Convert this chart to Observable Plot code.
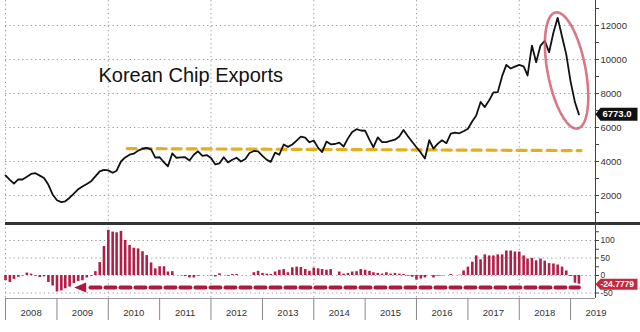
<!DOCTYPE html>
<html><head><meta charset="utf-8">
<script src="https://cdn.jsdelivr.net/npm/d3@7"></script>
<script src="https://cdn.jsdelivr.net/npm/@observablehq/plot@0.6"></script>
<style>
html,body{margin:0;padding:0;background:#fff;}
#chart{position:relative;width:640px;height:332px;overflow:hidden;font-family:"Liberation Sans",Arial,sans-serif;}
#chart svg{display:block;}
</style></head><body><div id="chart"></div>
<script>
// ---------- data ----------
const firstMonth = "2008-01-01";
const chartTitle = "Korean Chip Exports";
const exportsValues = [
 3180,2920,2700,2950,2940,3100,3270,3310,3170,3030,2630,2060,
 1720,1610,1660,1870,2110,2370,2530,2680,2840,3120,3420,3510,
 3480,3340,3460,4000,4240,4400,4460,4640,4750,4800,4710,4230,
 4250,3950,3720,4480,4220,4240,4250,4060,4400,4600,4330,4380,
 4200,3830,3890,4250,3950,4100,4220,4000,4150,4500,4620,4600,
 4330,4100,3980,4520,4400,5000,4860,5000,5230,5460,5400,5130,
 5235,4800,4550,5170,5010,5030,5110,4880,5360,5740,5900,5824,
 5810,5270,4840,5420,5135,5135,5220,5280,5470,5850,5490,5160,
 4840,4520,4180,5250,4760,5050,5250,5080,5640,5700,5660,5780,
 5930,6370,6700,7500,7200,7600,8070,8080,9020,9680,9470,9580,
 9680,9600,9060,10820,9840,10820,11100,10430,11590,12450,11350,10300,
 8700,7480,6773
];
const yoyValues = [
 -15,-20,-11,-5,-1,7,4,-2,-6,-4,-20,-30,
 -47,-44,-38,-33,-23,-17,-15,-7,-2,11,37,83,
 129,124,122,126,100,86,78,76,68,57,36,19,
 25,25,10,11,0,-1,-3,-7,-7,-2,0,0,
 -1,-4,5,0,-2,3,3,0,0,0,8,12,
 6,4,3,10,15,17,8,22,24,23,17,12,
 21,19,17,15,17,0,10,4,6,10,11,17,
 15,12,8,6,4,8,4,6,4,3,-2,-5,
 -13,-10,-7,0,-7,-2,-1,0,3,0,1,13,
 24,38,56,45,59,56,56,59,59,70,70,67,
 67,56,47,49,42,47,41,34,33,30,24,13,
 -3,-22,-24.7779
];
const yearLabels = [2008,2009,2010,2011,2012,2013,2014,2015,2016,2017,2018,2019];
const gridYears = [2008,2010,2012,2014,2016,2018];
const upperTicks = [1000,2000,3000,4000,5000,6000,7000,8000,9000,10000,11000,12000,13000];
const upperGrid = [2000,4000,6000,8000,10000,12000];
const lowerTicks = [-50,-25,0,25,50,75,100,125];
const lowerGrid = [-50,0,50,100];
const lastExportLabel = "6773.0";
const lastYoyLabel = "-24.7779";
const supportLine = [{date:"2010-05-15", value:4760},{date:"2019-03-15", value:4640}];
const arrowLine = [{date:"2009-08-27", value:-34},{date:"2019-03-01", value:-34}];
const arrowHead = [{date:"2009-06-22", value:-34}];
const ellipseAxis = [{date:"2018-09-16", value:12765},{date:"2019-02-20", value:5941}];
const ellipseHalfWidth = 19;

// ---------- build ----------
const d0 = new Date(firstMonth);
const monthDate = i => d3.utcMonth.offset(d0, i);
const exportsData = exportsValues.map((v,i)=>({date:monthDate(i), value:v}));
const yoyData = yoyValues.map((v,i)=>({date:monthDate(i), value:v}));
const yearStart = y => new Date(Date.UTC(y,0,1));
const xDomain = [yearStart(2008), new Date("2019-06-27")];
const upperDomain = [412, 13470];
const lowerDomain = [-65.7, 148.6];
const font = '"Liberation Sans", Arial, sans-serif';
const gridStyle = {stroke:"#9a9a9a", strokeDasharray:"1.3,3", strokeWidth:1};
const tag = (w,h) => ({draw(ctx){ctx.moveTo(0,0);ctx.lineTo(5,-h);ctx.lineTo(w,-h);ctx.lineTo(w,h);ctx.lineTo(5,h);ctx.closePath();}});
const headSym = {draw(ctx){ctx.moveTo(-7,0);ctx.lineTo(5,-5);ctx.lineTo(5,5);ctx.closePath();}};
const parse = a => a.map(d=>({date:new Date(d.date), value:d.value}));

// ellipse points (pixel geometry through the same scales)
const xs = d3.scaleUtc().domain(xDomain).range([5,595]);
const ys = d3.scaleLinear().domain(upperDomain).range([222,0]);
const ea = parse(ellipseAxis);
const p1 = [xs(ea[0].date), ys(ea[0].value)], p2 = [xs(ea[1].date), ys(ea[1].value)];
const c = [(p1[0]+p2[0])/2,(p1[1]+p2[1])/2], u = [(p2[0]-p1[0])/2,(p2[1]-p1[1])/2];
const ul = Math.hypot(u[0],u[1]); const n = [-u[1]/ul, u[0]/ul];
const ellipsePts = d3.range(0, 361, 5).map(a=>{
  const t = a*Math.PI/180;
  const px = c[0]+u[0]*Math.cos(t)+n[0]*ellipseHalfWidth*Math.sin(t);
  const py = c[1]+u[1]*Math.cos(t)+n[1]*ellipseHalfWidth*Math.sin(t);
  return {date: xs.invert(px), value: ys.invert(py)};
});

const last = exportsData[exportsData.length-1];
const lastY = yoyData[yoyData.length-1];

const upper = Plot.plot({
  width:640, height:222, marginTop:0, marginBottom:0, marginLeft:5, marginRight:45,
  style:{fontFamily:font, fontSize:"9.5px", color:"#333", background:"transparent", overflow:"visible"},
  x:{type:"utc", domain:xDomain, axis:null},
  y:{domain:upperDomain, axis:null},
  marks:[
    Plot.ruleX(gridYears.map(yearStart), gridStyle),
    Plot.ruleY(upperGrid, gridStyle),
    Plot.line(parse(supportLine), {x:"date", y:"value", stroke:"#E4AE22", strokeWidth:3.2, strokeDasharray:"9,6"}),
    Plot.line(exportsData, {x:"date", y:"value", stroke:"#111", strokeWidth:1.8}),
    Plot.line(ellipsePts, {x:"date", y:"value", stroke:"#cf5566", strokeWidth:2.6, strokeOpacity:0.8}),
    Plot.text([chartTitle], {frameAnchor:"top-left", dx:93, dy:75, textAnchor:"start", lineAnchor:"middle", fontSize:20, fill:"#111"}),
    Plot.ruleX([xDomain[1]], {stroke:"#444", strokeWidth:1}),
    Plot.axisY({anchor:"right", ticks:upperTicks, tickSize:3, tickPadding:2, tickFormat:d=> d%2000===0 ? String(d) : "", stroke:"#444", fill:"#333", fontSize:9.5, label:null}),
    Plot.dot([{date:xDomain[1], value:last.value}], {x:"date", y:"value", symbol:tag(42,6.5), fill:"#111", stroke:"none", r:5}),
    Plot.text([{date:xDomain[1], value:last.value}], {x:"date", y:"value", text:()=>lastExportLabel, dx:7, textAnchor:"start", fill:"#fff", fontSize:9.5, fontWeight:"bold"})
  ]
});

const lower = Plot.plot({
  width:640, height:110, marginTop:1, marginBottom:34, marginLeft:5, marginRight:45,
  style:{fontFamily:font, fontSize:"9px", color:"#333", background:"transparent", overflow:"visible"},
  x:{type:"utc", domain:xDomain, axis:null},
  y:{domain:lowerDomain, axis:null},
  marks:[
    Plot.ruleX(gridYears.map(yearStart), gridStyle),
    Plot.ruleY(lowerGrid, gridStyle),
    Plot.ruleX(yoyData, {x:"date", y1:0, y2:"value", stroke:"#B11E46", strokeWidth:2.6}),
    Plot.line(parse(arrowLine), {x:"date", y:"value", stroke:"#B0183F", strokeWidth:4, strokeDasharray:"10,5"}),
    Plot.dot(parse(arrowHead), {x:"date", y:"value", symbol:headSym, fill:"#B0183F", stroke:"none", r:5}),
    Plot.ruleY([lowerDomain[1]], {stroke:"#333", strokeWidth:3, insetRight:-45}),
    Plot.ruleY([lowerDomain[0]], {stroke:"#999", strokeWidth:1}),
    Plot.ruleX([xDomain[1]], {stroke:"#444", strokeWidth:1}),
    Plot.axisY({anchor:"right", ticks:lowerTicks, tickSize:3, tickPadding:2, tickFormat:d=> d%50===0 && d<=100 ? String(d) : "", stroke:"#444", fill:"#333", fontSize:8.5, label:null}),
    Plot.axisX(yearLabels.map(yearStart), {anchor:"bottom", tickSize:22, tickFormat:()=>"", stroke:"#888", label:null}),
    Plot.axisX(yearLabels.map(y=>new Date(Date.UTC(y,6,1))), {anchor:"bottom", tickSize:0, tickPadding:11, tickFormat:d3.utcFormat("%Y"), fill:"#333", fontSize:9.5, label:null}),
    Plot.dot([{date:xDomain[1], value:lastY.value}], {x:"date", y:"value", symbol:tag(42,5.5), fill:"#C8283E", stroke:"none", r:5}),
    Plot.text([{date:xDomain[1], value:lastY.value}], {x:"date", y:"value", text:()=>lastYoyLabel, dx:5, textAnchor:"start", fill:"#fff", fontSize:8.5, fontWeight:"bold"})
  ]
});

document.getElementById("chart").append(upper, lower);
</script></body></html>
